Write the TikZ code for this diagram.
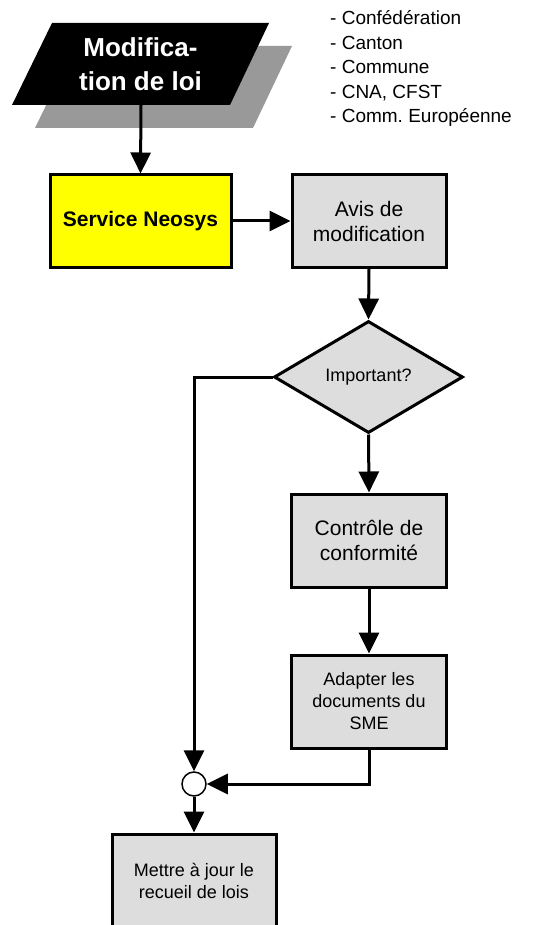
\documentclass[tikz,border=0pt]{standalone}
\usepackage{fontspec}
\setmainfont{Liberation Sans}
\usetikzlibrary{arrows.meta,shapes.geometric}
\frenchspacing
\definecolor{boxgrey}{HTML}{DDDDDD}
\definecolor{shadowgrey}{HTML}{999999}
\definecolor{neoyellow}{HTML}{FFFF00}
\tikzset{
  conn/.style={line width=3pt,-{Triangle[length=21pt,width=20pt]}},
  greybox/.style={draw,line width=3pt,fill=boxgrey,rectangle,align=center,inner sep=0pt},
  bigtxt/.style={font=\fontsize{21}{25}\selectfont},
  smalltxt/.style={font=\fontsize{18}{22}\selectfont},
}
\begin{document}
\begin{tikzpicture}[x=1pt,y=-1pt]
\useasboundingbox (0,0) rectangle (533,925);
% shadow + parallelogram
\fill[shadowgrey] (75,46) -- (292,46) -- (253,128) -- (35,128) -- cycle;
\fill[black] (52,23) -- (269,23) -- (230,105) -- (12,105) -- cycle;
\node[text=white,align=center,font=\fontsize{26}{34}\selectfont\bfseries] (modif) at (140.5,64) {Modifica-\\tion de loi};
\coordinate (pbot) at (141,105);
% list
\node[anchor=base west,align=left,inner sep=0pt,font=\fontsize{19}{24.5}\selectfont] (list) at (330,123) {- Confédération\\- Canton\\- Commune\\- CNA, CFST\\- Comm. Européenne};
% nodes
\node[greybox,fill=neoyellow,minimum width=181pt,minimum height=92pt,font=\fontsize{21}{25}\selectfont\bfseries] (neosys) at (140.5,221) {Service Neosys};
\node[greybox,bigtxt,minimum width=154pt,minimum height=92pt] (avis) at (369,221) {Avis de\\modification};
\node[draw,line width=3pt,fill=boxgrey,diamond,aspect=1.69,minimum width=189pt,minimum height=112pt,inner sep=0pt,smalltxt] (imp) at (368.5,377) {Important?};
\node[greybox,bigtxt,minimum width=155pt,minimum height=93pt] (ctrl) at (369,540.5) {Contrôle de\\conformité};
\node[greybox,smalltxt,minimum width=155pt,minimum height=93pt] (adapt) at (369,701.5) {Adapter les\\documents du\\SME};
\node[draw,circle,line width=1.5pt,fill=white,minimum size=24pt,inner sep=0pt] (junc) at (194,784) {};
\node[greybox,smalltxt,minimum width=164pt,minimum height=93pt] (mettre) at (194,880.5) {Mettre à jour le\\recueil de lois};
% connectors
\draw[conn] (pbot) -- (neosys.north);
\draw[conn] (neosys.east) -- (avis.west);
\draw[conn] (avis.south) -- (imp.north);
\draw[conn] (imp.south) -- (ctrl.north);
\draw[conn] (ctrl.south) -- (adapt.north);
\draw[conn] (imp.west) -| (junc.north);
\draw[conn] (adapt.south) |- (junc.east);
\draw[conn] (junc.south) -- (mettre.north);
\end{tikzpicture}
\end{document}
